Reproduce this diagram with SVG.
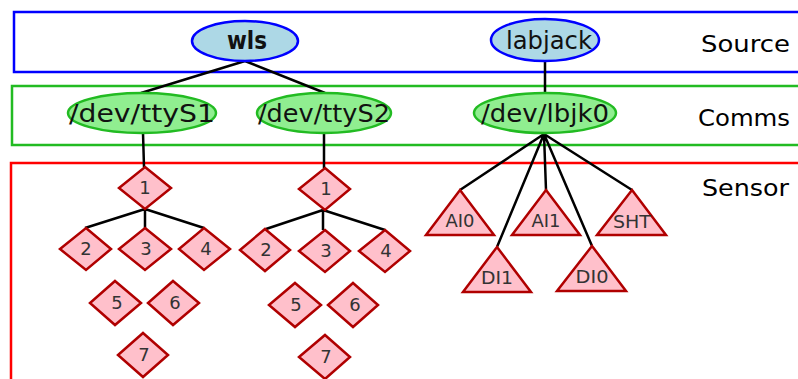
<svg xmlns="http://www.w3.org/2000/svg" width="798" height="379" viewBox="0 0 798 379">
<style>
text{font-family:"DejaVu Sans","Liberation Sans",sans-serif;text-anchor:middle}
.lbl{font-size:23px;fill:#000;text-anchor:start}
.src{fill:#add8e6;stroke:#0000ff;stroke-width:2.5}
.com{fill:#90ee90;stroke:#22bb22;stroke-width:2.5}
.sen{fill:#ffc0cb;stroke:#b00000;stroke-width:2.5}
.nt{font-size:25px;fill:#111}
.st{font-size:18px;fill:#333}
.e{stroke:#000;stroke-width:2.5;fill:none}
</style>
<g id="clusters">
<rect x="14" y="12" width="800" height="60" fill="none" stroke="#0000ff" stroke-width="2.5"/>
<rect x="12" y="86" width="800" height="59" fill="none" stroke="#22bb22" stroke-width="2.5"/>
<rect x="11" y="163" width="800" height="230" fill="none" stroke="#ff0000" stroke-width="2.5"/>
<text class="lbl" x="701" y="52" textLength="89" lengthAdjust="spacingAndGlyphs">Source</text>
<text class="lbl" x="698" y="126" textLength="92" lengthAdjust="spacingAndGlyphs">Comms</text>
<text class="lbl" x="702" y="196" textLength="87" lengthAdjust="spacingAndGlyphs">Sensor</text>
</g>
<g id="connectors" class="e">
<path d="M245 61L141 93M245 61L325 93M545 61V93"/>
<path d="M143 133L144 167M324 133V168"/>
<path d="M145 209L85 228M145 209V229M145 209L204 228"/>
<path d="M323 210L266 229M323 210V230M323 210L385 230"/>
<path d="M544 134L460 190M544 134L497 247M544 134L546 190M544 134L592 246M544 134L632 190"/>
</g>
<g id="wls"><ellipse class="src" cx="245" cy="41" rx="53" ry="20"/><text class="nt" x="247" y="49" font-weight="bold" textLength="40" lengthAdjust="spacingAndGlyphs">wls</text></g>
<g id="labjack"><ellipse class="src" cx="545" cy="40" rx="54" ry="21"/><text class="nt" x="549" y="49" textLength="86" lengthAdjust="spacingAndGlyphs">labjack</text></g>
<g id="ttyS1"><ellipse class="com" cx="142" cy="113" rx="74" ry="20"/><text class="nt" x="142" y="122" textLength="146" lengthAdjust="spacingAndGlyphs">/dev/ttyS1</text></g>
<g id="ttyS2"><ellipse class="com" cx="324" cy="113" rx="67" ry="20"/><text class="nt" x="324" y="122" textLength="132" lengthAdjust="spacingAndGlyphs">/dev/ttyS2</text></g>
<g id="lbjk0"><ellipse class="com" cx="545" cy="113" rx="71" ry="20"/><text class="nt" x="545" y="122" textLength="128" lengthAdjust="spacingAndGlyphs">/dev/lbjk0</text></g>
<g id="s1_1"><path class="sen" d="M145 167L171 188L145 209L119 188Z"/><text class="st" x="145" y="194">1</text></g>
<g id="s1_2"><path class="sen" d="M86 228L111 249L86 270L60 249Z"/><text class="st" x="86" y="255">2</text></g>
<g id="s1_3"><path class="sen" d="M145 228L171 249L145 270L119 249Z"/><text class="st" x="146" y="255">3</text></g>
<g id="s1_4"><path class="sen" d="M204 228L230 249L204 270L179 249Z"/><text class="st" x="206" y="255">4</text></g>
<g id="s1_5"><path class="sen" d="M115 281L141 303L115 325L90 303Z"/><text class="st" x="117" y="309">5</text></g>
<g id="s1_6"><path class="sen" d="M173 281L199 303L173 325L148 303Z"/><text class="st" x="175" y="309">6</text></g>
<g id="s1_7"><path class="sen" d="M143 333L168 355L143 377L118 355Z"/><text class="st" x="144" y="361">7</text></g>
<g id="s2_1"><path class="sen" d="M325 168L350 189L325 210L299 189Z"/><text class="st" x="326" y="195">1</text></g>
<g id="s2_2"><path class="sen" d="M265 229L290 250L265 271L240 250Z"/><text class="st" x="266" y="256">2</text></g>
<g id="s2_3"><path class="sen" d="M325 230L350 251L325 272L299 251Z"/><text class="st" x="326" y="257">3</text></g>
<g id="s2_4"><path class="sen" d="M385 230L410 251L385 272L359 251Z"/><text class="st" x="386" y="257">4</text></g>
<g id="s2_5"><path class="sen" d="M295 283L321 305L295 327L269 305Z"/><text class="st" x="296" y="311">5</text></g>
<g id="s2_6"><path class="sen" d="M353 283L378 305L353 327L328 305Z"/><text class="st" x="355" y="311">6</text></g>
<g id="s2_7"><path class="sen" d="M325 335L350 357L325 379L299 357Z"/><text class="st" x="326" y="363">7</text></g>
<g id="AI0"><path class="sen" d="M460 190L494 235L426 235Z"/><text class="st" x="460" y="227" textLength="29" lengthAdjust="spacingAndGlyphs">AI0</text></g>
<g id="AI1"><path class="sen" d="M546 190L580 235L512 235Z"/><text class="st" x="546" y="227" textLength="29" lengthAdjust="spacingAndGlyphs">AI1</text></g>
<g id="SHT"><path class="sen" d="M632 190L666 235L597 235Z"/><text class="st" x="632" y="228" textLength="38" lengthAdjust="spacingAndGlyphs">SHT</text></g>
<g id="DI1"><path class="sen" d="M497 247L531 292L463 292Z"/><text class="st" x="497" y="284" textLength="32" lengthAdjust="spacingAndGlyphs">DI1</text></g>
<g id="DI0"><path class="sen" d="M592 246L626 291L557 291Z"/><text class="st" x="592" y="283" textLength="33" lengthAdjust="spacingAndGlyphs">DI0</text></g>
</svg>
